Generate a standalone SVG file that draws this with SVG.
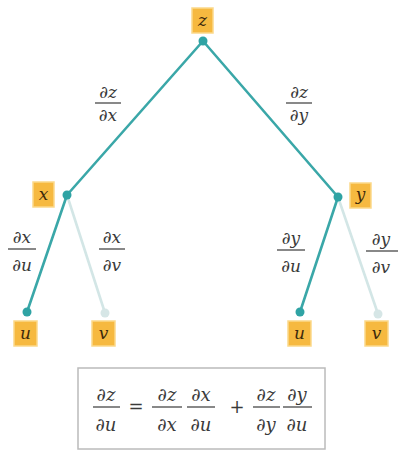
<svg xmlns="http://www.w3.org/2000/svg" width="398" height="452" viewBox="0 0 398 452">
<style>
.nb{fill:#f6b940;stroke:#fbd98a;stroke-width:1.5}
.nt{fill:#3e2a0c;text-anchor:middle}
.lb{fill:#3a3a3a;text-anchor:middle}
.fl{stroke:#3a3a3a;stroke-width:1.2}
.e{stroke:#3aa7a8;stroke-width:2.6;fill:none;stroke-linecap:round}
.el{stroke:#d3e6e6;stroke-width:2.6;fill:none;stroke-linecap:round}
.d{fill:#2fa3a4}
.dl{fill:#d6e6e6}
</style>
<rect width="398" height="452" fill="#fff"/>
<g id="connectors">
<line class="e" x1="203" y1="41" x2="67" y2="195"/>
<line class="e" x1="203" y1="41" x2="338" y2="197"/>
<line class="e" x1="67" y1="195" x2="27" y2="312"/>
<line class="el" x1="67" y1="195" x2="105" y2="313"/>
<line class="e" x1="338" y1="197" x2="300" y2="312"/>
<line class="el" x1="338" y1="197" x2="378" y2="314"/>
<circle class="d" cx="203" cy="41" r="4.5"/>
<circle class="d" cx="67" cy="195" r="4.5"/>
<circle class="d" cx="338" cy="197" r="4.5"/>
<circle class="d" cx="27" cy="312" r="4.5"/>
<circle class="dl" cx="105" cy="313" r="4.5"/>
<circle class="d" cx="300" cy="312" r="4.5"/>
<circle class="dl" cx="378" cy="314" r="4.5"/>
</g>
<g font-family="DejaVu Serif, serif" font-style="italic" font-size="17">
<g id="node-z"><rect class="nb" x="192" y="8" width="21" height="25"/><text class="nt" x="202.5" y="26">z</text></g>
<g id="node-x"><rect class="nb" x="33" y="182" width="21" height="25"/><text class="nt" x="43.5" y="200">x</text></g>
<g id="node-y"><rect class="nb" x="350" y="183" width="21" height="25"/><text class="nt" x="360.5" y="200">y</text></g>
<g id="node-u1"><rect class="nb" x="14" y="321" width="23" height="25"/><text class="nt" x="25.5" y="339">u</text></g>
<g id="node-v1"><rect class="nb" x="92" y="321" width="23" height="25"/><text class="nt" x="103.5" y="339">v</text></g>
<g id="node-u2"><rect class="nb" x="288" y="321" width="23" height="25"/><text class="nt" x="299.5" y="339">u</text></g>
<g id="node-v2"><rect class="nb" x="365" y="321" width="23" height="25"/><text class="nt" x="376.5" y="339">v</text></g>
<g id="labels">
<text class="lb" x="108" y="98">∂z</text><line class="fl" x1="95" y1="103" x2="121" y2="103"/><text class="lb" x="108" y="121">∂x</text>
<text class="lb" x="299" y="98">∂z</text><line class="fl" x1="286" y1="103" x2="312" y2="103"/><text class="lb" x="299" y="121">∂y</text>
<text class="lb" x="22" y="243">∂x</text><line class="fl" x1="8" y1="249" x2="36" y2="249"/><text class="lb" x="22" y="271">∂u</text>
<text class="lb" x="112" y="243">∂x</text><line class="fl" x1="99" y1="249" x2="125" y2="249"/><text class="lb" x="112" y="271">∂v</text>
<text class="lb" x="291" y="244">∂y</text><line class="fl" x1="277" y1="250" x2="305" y2="250"/><text class="lb" x="291" y="272">∂u</text>
<text class="lb" x="381" y="245">∂y</text><line class="fl" x1="366" y1="251" x2="398" y2="251"/><text class="lb" x="381" y="273">∂v</text>
</g>
<g id="equation" font-size="18">
<rect x="78" y="368" width="247" height="81" fill="#fff" stroke="#bbb" stroke-width="1.5"/>
<text class="lb" x="106" y="401">∂z</text><line class="fl" x1="93" y1="407" x2="120" y2="407"/><text class="lb" x="106" y="431">∂u</text>
<text class="lb" x="136" y="413" font-style="normal">=</text>
<text class="lb" x="167" y="401">∂z</text><line class="fl" x1="152" y1="407" x2="182" y2="407"/><text class="lb" x="167" y="431">∂x</text>
<text class="lb" x="201" y="401">∂x</text><line class="fl" x1="187" y1="407" x2="215" y2="407"/><text class="lb" x="201" y="431">∂u</text>
<text class="lb" x="237" y="413" font-style="normal">+</text>
<text class="lb" x="266" y="401">∂z</text><line class="fl" x1="253" y1="407" x2="280" y2="407"/><text class="lb" x="266" y="431">∂y</text>
<text class="lb" x="297" y="401">∂y</text><line class="fl" x1="283" y1="407" x2="312" y2="407"/><text class="lb" x="297" y="431">∂u</text>
</g>
</g>
</svg>
